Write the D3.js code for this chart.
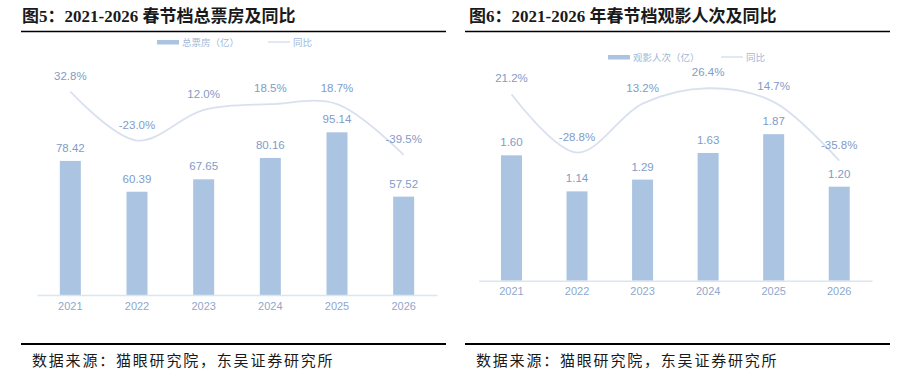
<!DOCTYPE html>
<html><head><meta charset="utf-8">
<script src="https://cdn.jsdelivr.net/npm/d3@7"></script>
<style>
html,body{margin:0;padding:0;background:#fff;}
svg{display:block;}
</style></head>
<body>
<svg id="c" width="912" height="378"></svg>
<script>
const years = ["2021","2022","2023","2024","2025","2026"];
const boxOffice = [78.42, 60.39, 67.65, 80.16, 95.14, 57.52];
const boxOfficeYoY = [32.8, -23.0, 12.0, 18.5, 18.7, -39.5];
const admissions = [1.60, 1.14, 1.29, 1.63, 1.87, 1.20];
const admissionsYoY = [21.2, -28.8, 13.2, 26.4, 14.7, -35.8];

const svg = d3.select("#c");
const BAR = "#aac4e2", LAB = "#7f9cc8", AX = "#dce6f3", LINE = "#d9e1ef", LEG = "#9fb6d8";
const cjk = "'Noto Sans CJK SC', sans-serif";
const num = "'Liberation Sans', Arial, sans-serif";

function panel(o) {
  const g = svg.append("g");
  g.append("text").attr("x", o.tx).attr("y", 22)
    .attr("font-family", "'Liberation Serif','Noto Sans CJK SC',serif")
    .attr("font-weight", "bold").attr("font-size", 17).attr("fill", "#1a1a1a")
    .text(o.title);
  g.append("line").attr("x1", o.r0).attr("x2", o.r1).attr("y1", 31.5).attr("y2", 31.5)
    .attr("stroke", "#000").attr("stroke-width", 1.5);
  g.append("line").attr("x1", o.r0).attr("x2", o.r1).attr("y1", 344).attr("y2", 344)
    .attr("stroke", "#000").attr("stroke-width", 2);
  g.append("text").attr("x", o.sx).attr("y", 366)
    .attr("font-family", cjk).attr("font-size", 15).attr("letter-spacing", 1.8)
    .attr("fill", "#1a1a1a").text("数据来源：猫眼研究院，东吴证券研究所");

  // legend
  g.append("rect").attr("x", o.lx).attr("y", o.ly - 2).attr("width", 22).attr("height", 4.5).attr("fill", BAR);
  g.append("text").attr("x", o.lx + 25).attr("y", o.ly + 3.5).attr("font-family", cjk)
    .attr("font-size", 9.5).attr("fill", LEG).text(o.barName);
  g.append("line").attr("x1", o.lx2).attr("x2", o.lx2 + 22).attr("y1", o.ly).attr("y2", o.ly)
    .attr("stroke", LINE).attr("stroke-width", 1.5);
  g.append("text").attr("x", o.lx2 + 25).attr("y", o.ly + 3.5).attr("font-family", cjk)
    .attr("font-size", 9.5).attr("fill", LEG).text("同比");

  const x = d3.scaleBand().domain(years).range([o.x0, o.x1]).paddingInner(0).paddingOuter(0);
  const y = d3.scaleLinear().domain(o.yDom).range([o.base, 124]);
  const y2 = d3.scaleLinear().domain(o.y2Dom).range(o.y2Rng);
  const bw = 21;

  const data = years.map((yr, i) => ({yr, v: o.bars[i], p: o.pct[i]}));

  g.selectAll(".bar").data(data).enter().append("rect")
    .attr("x", d => x(d.yr) + x.bandwidth() / 2 - bw / 2)
    .attr("y", d => y(d.v)).attr("width", bw).attr("height", d => y(0) - y(d.v))
    .attr("fill", BAR);
  g.selectAll(".bl").data(data).enter().append("text")
    .attr("x", d => x(d.yr) + x.bandwidth() / 2).attr("y", d => y(d.v) - 9)
    .attr("text-anchor", "middle").attr("font-family", num).attr("font-size", 11.5)
    .attr("fill", LAB).text(d => d.v.toFixed(2));

  const axis = d3.axisBottom(x).tickSize(0).tickPadding(7);
  const ag = g.append("g").attr("transform", `translate(0,${o.base})`).call(axis);
  ag.select(".domain").attr("stroke", AX).attr("stroke-width", 1.5);
  ag.selectAll("text").attr("font-family", num).attr("font-size", 11).attr("fill", "#8fa8cc");

  const line = d3.line().x(d => x(d.yr) + x.bandwidth() / 2).y(d => y2(d.p)).curve(d3.curveCatmullRom.alpha(0.5));
  g.append("path").datum(data).attr("d", line).attr("fill", "none")
    .attr("stroke", LINE).attr("stroke-width", 1.8);
  g.selectAll(".pl").data(data).enter().append("text")
    .attr("x", d => x(d.yr) + x.bandwidth() / 2).attr("y", d => y2(d.p) - 12)
    .attr("text-anchor", "middle").attr("font-family", num).attr("font-size", 11.5)
    .attr("fill", LAB).text(d => d.p.toFixed(1) + "%");
}

panel({
  title: "图5：2021-2026 春节档总票房及同比", tx: 22, r0: 21, r1: 446, sx: 32,
  lx: 157, lx2: 268, ly: 42, barName: "总票房（亿）",
  x0: 37, x1: 437, base: 295, yDom: [0, 100],
  bars: boxOffice, pct: boxOfficeYoY, y2Dom: [-60, 40], y2Rng: [172.9, 85.4]
});
panel({
  title: "图6：2021-2026 年春节档观影人次及同比", tx: 469, r0: 465, r1: 890, sx: 476,
  lx: 608, lx2: 721, ly: 57, barName: "观影人次（亿）",
  x0: 478.7, x1: 872, base: 280.7, yDom: [0, 2],
  bars: admissions, pct: admissionsYoY, y2Dom: [-40, 30], y2Rng: [165.6, 84.05]
});
</script>
</body></html>
